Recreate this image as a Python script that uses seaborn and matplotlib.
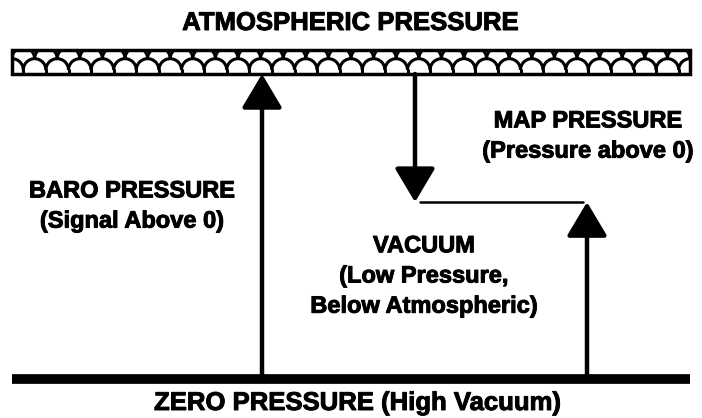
import matplotlib
matplotlib.use("Agg")
import matplotlib.pyplot as plt
import matplotlib.patheffects as pe
import seaborn as sns
from matplotlib.patches import Rectangle, Arc

# pressure levels (0 = zero pressure, 100 = atmospheric)
level_names = ["zero", "map", "atmospheric"]
level_values = [0, 58, 100]
bar_thickness = 8

# arrows: (x position, start level, end level)
arrow_names = ["baro", "vacuum", "map"]
arrow_x = [262, 415, 587]
arrow_from = [0, 100, 0]
arrow_to = [100, 58, 58]

labels = {
    "top": "ATMOSPHERIC PRESSURE",
    "bottom": "ZERO PRESSURE (High Vacuum)",
    "baro": "BARO PRESSURE\n(Signal Above 0)",
    "map": "MAP PRESSURE\n(Pressure above 0)",
    "vacuum": "VACUUM\n(Low Pressure,\nBelow Atmospheric)",
}

sns.set_style("white")
plt.rcParams["font.family"] = ["Liberation Sans", "DejaVu Sans"]

fig = plt.figure(figsize=(7.02, 4.18), dpi=100)
ax = fig.add_axes([0, 0, 1, 1])
# pixel-like x, level-based y
px_per_level = 305 / 100.0
y0_px = 379
ax.set_xlim(0, 702)
ax.set_ylim((y0_px - 418) / px_per_level, y0_px / px_per_level)
ax.axis("off")

def lv(px):
    return (y0_px - px) / px_per_level

atm = level_values[2]
# hatched atmospheric band (fish-scale pattern)
bg = Rectangle((12, atm), 678, bar_thickness, facecolor="white",
               edgecolor="none", zorder=1)
ax.add_patch(bg)
period = 22.6
n = int(678 / period) + 2
r = period / 2
ry = r / px_per_level
low_c = atm + 4 / px_per_level
high_c = low_c + ry
for k in range(-1, n):
    for cx, cy in [(12 + k * period, low_c), (12 + (k + 0.5) * period, high_c)]:
        a = Arc((cx, cy), 2 * r, 2 * ry, theta1=0, theta2=180,
                color="black", lw=2.2, zorder=2)
        ax.add_patch(a)
        a.set_clip_path(bg)
    xt = 12 + (k + 0.5) * period
    if 12 < xt < 690:
        ax.plot([xt, xt], [atm, low_c], color="black", lw=2.2, zorder=2)
ax.add_patch(Rectangle((12, atm), 678, bar_thickness, facecolor="none",
                       edgecolor="black", lw=2.5, zorder=3))

# zero pressure line
ax.plot([12, 690], [level_values[0], level_values[0]], color="black",
        lw=7, solid_capstyle="butt", zorder=3)

# map level line
map_lv = level_values[1]
ax.plot([420, 583], [map_lv, map_lv], color="black", lw=1.8, zorder=3)

# arrows
for x, a0, a1 in zip(arrow_x, arrow_from, arrow_to):
    ax.annotate("", xy=(x, a1), xytext=(x, a0),
                arrowprops=dict(arrowstyle="-|>,head_length=2.1,head_width=1.25",
                                color="black", lw=3.2, shrinkA=0, shrinkB=0),
                zorder=4)

kw = dict(ha="center", va="center", fontweight="bold", color="black",
          linespacing=1.4,
          path_effects=[pe.withStroke(linewidth=0.7, foreground="black")])
ax.text(351, lv(23), labels["top"], fontsize=18.5, **kw)
ax.text(358, lv(403), labels["bottom"], fontsize=18.5, **kw)
ax.text(132, lv(206), labels["baro"], fontsize=17, **kw)
ax.text(588, lv(136), labels["map"], fontsize=17, **kw)
ax.text(424, lv(276), labels["vacuum"], fontsize=17, **kw)

fig.savefig("out.png", dpi=100)
